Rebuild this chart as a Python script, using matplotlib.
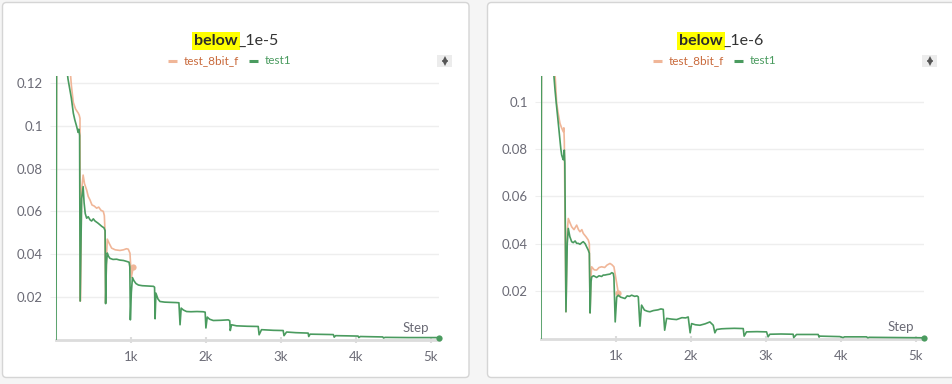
import matplotlib
matplotlib.use("Agg")
import matplotlib.pyplot as plt
from matplotlib.patches import FancyBboxPatch, Rectangle
from matplotlib.ticker import FuncFormatter

plt.rcParams['font.family'] = ['Lato', 'DejaVu Sans']

# ---- data (step, value) ----
titles = ["1e-5", "1e-6"]
series_names = ["test_8bit_f", "test1"]
x_ticks = [1000, 2000, 3000, 4000, 5000]
x_tick_labels = ["1k", "2k", "3k", "4k", "5k"]
y_ticks_a = [0.02, 0.04, 0.06, 0.08, 0.1, 0.12]
y_ticks_b = [0.02, 0.04, 0.06, 0.08, 0.1]

# panel 1e-5, test1 (green)
a_green_steps = [0, 12, 140, 160, 185, 205, 231, 250, 276, 295, 305, 315, 322, 342, 362, 375, 390,
                 409, 430, 455, 475, 498, 520, 540, 560, 587, 610, 640, 655, 662, 672, 684, 700,
                 720, 760, 809, 850, 900, 940, 975, 985, 992, 1005, 1020, 1040, 1067, 1100, 1150,
                 1200, 1250, 1300, 1315, 1322, 1333, 1360, 1387, 1450, 1520, 1600, 1640, 1655,
                 1670, 1700, 1742, 1800, 1880, 1964, 1990, 2000, 2018, 2050, 2098, 2200, 2298,
                 2318, 2325, 2342, 2409, 2550, 2698, 2710, 2742, 2900, 3031, 3042, 3076, 3200,
                 3364, 3372, 3390, 3550, 3700, 3712, 3730, 3900, 4030, 4040, 4060, 4200, 4360,
                 4370, 4390, 4700, 5110]
a_green_vals = [0.0, 0.20, 0.128, 0.122, 0.117, 0.113, 0.106, 0.103, 0.0997, 0.097, 0.0985, 0.0955,
                0.018, 0.066, 0.0716, 0.064, 0.059, 0.0568, 0.0575, 0.056, 0.0555, 0.0565, 0.0555,
                0.055, 0.0545, 0.0537, 0.053, 0.0523, 0.051, 0.0168, 0.035, 0.0405, 0.039, 0.038,
                0.0375, 0.0376, 0.0372, 0.037, 0.0366, 0.0362, 0.034, 0.0092, 0.022, 0.029, 0.0275,
                0.0262, 0.0255, 0.0252, 0.0251, 0.025, 0.0249, 0.0245, 0.0097, 0.0217, 0.019,
                0.0178, 0.0175, 0.0174, 0.0173, 0.0172, 0.0069, 0.0147, 0.0138, 0.0131, 0.013,
                0.0131, 0.013, 0.0128, 0.0054, 0.0105, 0.0095, 0.0089, 0.009, 0.0092, 0.0088,
                0.0042, 0.0069, 0.0064, 0.0062, 0.0061, 0.0022, 0.0046, 0.0043, 0.0042, 0.0018,
                0.0035, 0.0032, 0.003, 0.0014, 0.0025, 0.0024, 0.0023, 0.0011, 0.0018, 0.0017,
                0.0016, 0.0009, 0.0014, 0.0013, 0.0012, 0.0007, 0.001, 0.0009, 0.0009]

# panel 1e-5, test_8bit_f (orange)
a_orange_steps = [0, 12, 185, 205, 231, 260, 297, 310, 320, 325, 342, 362, 380, 409, 430, 453, 480,
                  510, 542, 570, 600, 631, 645, 653, 662, 675, 684, 710, 742, 790, 853, 900, 940,
                  964, 987, 1005, 1031]
a_orange_vals = [0.0, 0.20, 0.128, 0.119, 0.111, 0.108, 0.106, 0.105, 0.1036, 0.018, 0.07, 0.077,
                 0.073, 0.07, 0.067, 0.0654, 0.063, 0.0625, 0.0615, 0.062, 0.0605, 0.06, 0.058,
                 0.0513, 0.017, 0.04, 0.047, 0.045, 0.0428, 0.042, 0.0417, 0.042, 0.0425, 0.0423,
                 0.0404, 0.029, 0.034]

# panel 1e-6, test1 (green)
b_green_steps = [0, 10, 160, 187, 205, 222, 240, 253, 265, 276, 290, 298, 305, 311, 318, 333, 350,
                 364, 385, 409, 430, 455, 476, 498, 520, 545, 564, 590, 609, 631, 645, 655, 668,
                 676, 700, 720, 742, 775, 809, 830, 853, 880, 920, 945, 964, 973, 990, 1010, 1031,
                 1060, 1090, 1120, 1150, 1180, 1209, 1250, 1280, 1298, 1320, 1342, 1380, 1420,
                 1453, 1500, 1560, 1600, 1631, 1650, 1676, 1740, 1809, 1880, 1930, 1964, 1990,
                 2009, 2060, 2120, 2190, 2253, 2298, 2320, 2342, 2410, 2476, 2580, 2698, 2710,
                 2742, 2880, 3009, 3030, 3053, 3200, 3364, 3372, 3409, 3550, 3698, 3710, 3720,
                 3987, 4030, 4050, 4343, 4360, 4380, 5107]
b_green_vals = [0.0, 0.20, 0.116, 0.105, 0.099, 0.0937, 0.088, 0.0838, 0.08, 0.0775, 0.0761,
                0.0755, 0.078, 0.0796, 0.074, 0.0113, 0.04, 0.0465, 0.043, 0.0409, 0.0405, 0.0412,
                0.0402, 0.0402, 0.0398, 0.0405, 0.0409, 0.04, 0.0387, 0.0373, 0.036, 0.0108, 0.024,
                0.026, 0.0265, 0.0262, 0.0258, 0.0265, 0.0262, 0.0268, 0.0268, 0.027, 0.0272,
                0.0278, 0.0275, 0.0258, 0.007, 0.0175, 0.0183, 0.0175, 0.0172, 0.0169, 0.018,
                0.0178, 0.0183, 0.0178, 0.018, 0.0176, 0.0052, 0.0141, 0.012, 0.0115, 0.0113,
                0.0118, 0.0121, 0.0125, 0.0123, 0.0035, 0.0085, 0.0082, 0.008, 0.0088, 0.0087,
                0.0091, 0.0024, 0.0063, 0.0058, 0.0056, 0.0062, 0.007, 0.0056, 0.0024, 0.0038,
                0.0041, 0.0042, 0.0043, 0.0042, 0.001, 0.0028, 0.0029, 0.0028, 0.0007, 0.0018,
                0.0019, 0.0018, 0.0004, 0.0017, 0.0017, 0.0017, 0.0006, 0.001, 0.0008, 0.0004,
                0.0007, 0.0007, 0.0003, 0.0005, 0.0003]

# panel 1e-6, test_8bit_f (orange)
b_orange_steps = [0, 10, 180, 209, 230, 253, 275, 298, 305, 311, 333, 350, 364, 385, 409, 440, 476,
                  500, 520, 545, 564, 600, 631, 645, 655, 668, 676, 710, 742, 775, 809, 850, 880,
                  920, 945, 973, 1031]
b_orange_vals = [0.0, 0.20, 0.116, 0.0994, 0.095, 0.0909, 0.089, 0.0873, 0.089, 0.0831, 0.0113,
                 0.045, 0.0507, 0.049, 0.0472, 0.046, 0.0479, 0.046, 0.0451, 0.046, 0.0444, 0.043,
                 0.0416, 0.04, 0.0108, 0.027, 0.0303, 0.029, 0.0289, 0.03, 0.0303, 0.03, 0.031,
                 0.0317, 0.0312, 0.0303, 0.0193]

GREEN = '#4a9b5f'
ORANGE = '#f0b698'
ORANGE_TXT = '#c96a3c'
GRAY = '#6b6b76'

W, H = 953, 384
fig = plt.figure(figsize=(W / 100, H / 100), dpi=100, facecolor='#f5f5f5')

# background layer in pixel coordinates (y down)
bg = fig.add_axes([0, 0, 1, 1], zorder=0)
bg.set_xlim(0, W)
bg.set_ylim(H, 0)
bg.axis('off')


def card(x0, x1, split, name, icon_x):
    bg.add_patch(FancyBboxPatch((x0, 2.5), x1 - x0, 375, boxstyle='round,pad=0,rounding_size=4',
                                fc='white', ec='#d5d5d5', lw=1.0))
    bg.text(split, 41, 'below', ha='right', va='center', fontsize=11.5, fontweight='bold',
            color='#2b2b2b', bbox=dict(boxstyle='square,pad=0.12', fc='#ffff00', ec='none'))
    bg.text(split, 41, '_' + name, ha='left', va='center', fontsize=11.5, color='#333333')
    # legend
    lx = split - 70
    bg.plot([lx, lx + 9], [61, 61], color=ORANGE, lw=2.2, solid_capstyle='butt')
    bg.text(lx + 16, 61, series_names[0], ha='left', va='center', fontsize=8.5, color=ORANGE_TXT)
    bg.plot([lx + 81, lx + 90], [61, 61], color=GREEN, lw=2.2, solid_capstyle='butt')
    bg.text(lx + 97, 61, series_names[1], ha='left', va='center', fontsize=8.5, color=GREEN)
    # small sort icon
    bg.add_patch(Rectangle((icon_x, 55), 15, 12, fc='#ececec', ec='none'))
    bg.plot([icon_x + 7.5], [58.6], marker='^', ms=4, color='#555555', mew=0)
    bg.plot([icon_x + 7.5], [63.4], marker='v', ms=4, color='#555555', mew=0)


card(2.5, 469, 238, titles[0], 437.5)
card(487.5, 970, 723, titles[1], 922.5)


def panel(rect, ymax, yticks, o_s, o_v, g_s, g_v):
    ax = fig.add_axes(rect, zorder=1)
    ax.set_facecolor('none')
    ax.plot(o_s, o_v, color=ORANGE, lw=1.2, zorder=2)
    ax.plot(o_s[-1], o_v[-1], 'o', color=ORANGE, ms=4.5, mew=0, zorder=2)
    ax.plot(g_s, g_v, color=GREEN, lw=1.2, zorder=3)
    ax.plot(g_s[-1], g_v[-1], 'o', color=GREEN, ms=4.5, mew=0, zorder=3, clip_on=False)
    ax.set_xlim(0, 5110)
    ax.set_ylim(0, ymax)
    ax.set_xticks(x_ticks)
    ax.set_xticklabels(x_tick_labels)
    ax.set_yticks(yticks)
    ax.yaxis.set_major_formatter(FuncFormatter(lambda v, p: '%g' % round(v, 3)))
    ax.grid(axis='y', color='#eeeeee', lw=1)
    ax.set_axisbelow(True)
    for s in ['top', 'right']:
        ax.spines[s].set_visible(False)
    ax.spines['left'].set_color('#e8e8e8')
    ax.spines['bottom'].set_color('#dcdcdc')
    ax.spines['bottom'].set_linewidth(2)
    ax.tick_params(axis='y', length=4.5, color='#eeeeee', labelcolor=GRAY, labelsize=9.5, pad=5)
    ax.tick_params(axis='x', length=5, direction='inout', color='#dcdcdc', labelcolor=GRAY,
                   labelsize=9.5, pad=6, width=1.5)
    ax.text(0.975, 0.02, 'Step', transform=ax.transAxes, ha='right', va='bottom',
            fontsize=9.5, color=GRAY)
    return ax


panel([56 / W, 1 - 339.5 / H, 383 / W, (339.5 - 76) / H], 0.1234, y_ticks_a,
      a_orange_steps, a_orange_vals, a_green_steps, a_green_vals)
panel([541 / W, 1 - 338.5 / H, 383 / W, (338.5 - 76) / H], 0.1109, y_ticks_b,
      b_orange_steps, b_orange_vals, b_green_steps, b_green_vals)

fig.savefig('out.png', dpi=100, facecolor=fig.get_facecolor())
